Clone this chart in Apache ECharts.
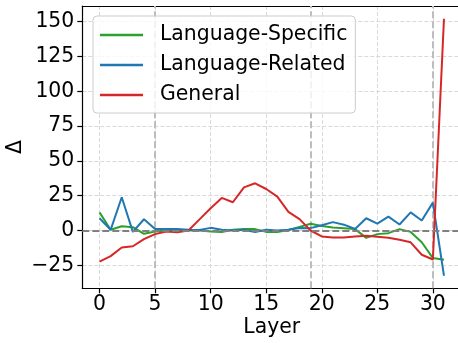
<!DOCTYPE html>
<html>
<head>
<meta charset="utf-8">
<script src="https://cdn.jsdelivr.net/npm/echarts@6/dist/echarts.min.js"></script>
<style>
html,body{margin:0;padding:0;background:#fff;}
#c{width:458px;height:343px;}
</style>
</head>
<body>
<div id="c"></div>
<script>
const layers = [0,1,2,3,4,5,6,7,8,9,10,11,12,13,14,15,16,17,18,19,20,21,22,23,24,25,26,27,28,29,30,31];
const languageSpecific = [13, 0.5, 3, 2.4, -2.4, -0.7, 0, 0.2, 0, 0, -0.7, -1, 0.5, 1, 1, -1, -1, 0.3, 2.6, 4.9, 3.3, 2.1, 1.7, 1, -5.3, -2.6, -1.9, 1, -1, -8.4, -19.8, -21];
const languageRelated = [8.8, 0.5, 23.9, -1, 8.1, 1, 1, 1, 0.5, 0.3, 1.9, 0.5, 0, 0.5, -1, 0.5, 0, 0.5, 1.8, 1.7, 3.8, 6, 4.2, 1.1, 8.8, 5, 10, 4.3, 13, 7.2, 20, -32.5];
const general = [-22.4, -18.4, -12.2, -11.3, -6.2, -2.6, -0.7, -1.2, 0, 8, 16, 23.4, 20.3, 31, 33.9, 29.8, 24.3, 13.4, 8.2, 0, -4.3, -5, -5, -4.3, -3.8, -4.5, -5.2, -6.7, -8.5, -17.4, -20.8, 152];
const xTicks = [0,5,10,15,20,25,30];
const yTicks = [-25,0,25,50,75,100,125,150];
const refLayers = [5,19,30];
const refZero = [0];
const seriesNames = ['Language-Specific','Language-Related','General'];

const FONT = 'DejaVu Sans';
const FS = 20.4;
const pair = (ys) => layers.map((x,i)=>[x, ys[i]]);
const fmt = v => String(v).replace('-', '\u2212');

const chart = echarts.init(document.getElementById('c'), null, {renderer:'canvas'});
const gridLine = {show:true, lineStyle:{color:'#d9d9d9', width:1, type:[4,2]}};
chart.setOption({
  animation:false,
  backgroundColor:'#fff',
  textStyle:{fontFamily:FONT},
  grid:{left:82.3, top:6, right:-3.2, bottom:54.7, containLabel:false, outerBoundsMode:'none'},
  legend:{
    data:seriesNames,
    orient:'vertical',
    left:93, top:16,
    padding:[9,8,8,7],
    icon:'rect',
    itemWidth:43, itemHeight:2.5, itemGap:10,
    backgroundColor:'rgba(255,255,255,0.8)',
    borderColor:'#cccccc', borderWidth:1, borderRadius:4,
    textStyle:{fontFamily:FONT, fontSize:FS, color:'#000', lineHeight:20, padding:[0,0,0,12]}
  },
  xAxis:[{
    type:'value', min:-1.55, max:32.55,
    name:'Layer', nameLocation:'middle', nameGap:29, nameMoveOverlap:false,
    nameTextStyle:{fontFamily:FONT, fontSize:FS, color:'#000'},
    axisLine:{show:true, onZero:false, lineStyle:{color:'#000', width:1.2}},
    axisTick:{show:true, length:5, customValues:xTicks, lineStyle:{color:'#000', width:1.2}},
    axisLabel:{fontFamily:FONT, fontSize:FS, color:'#000', margin:6, customValues:xTicks, formatter:fmt},
    splitLine:gridLine
  },{
    type:'value', min:-1.55, max:32.55, position:'top',
    axisLine:{show:true, onZero:false, lineStyle:{color:'#000', width:1.2}},
    axisTick:{show:false}, axisLabel:{show:false}, splitLine:{show:false}
  }],
  yAxis:{
    type:'value', min:-41.5, max:161.2,
    name:'\u0394', nameLocation:'middle', nameGap:57, nameRotate:90, nameMoveOverlap:false,
    nameTextStyle:{fontFamily:FONT, fontSize:FS, color:'#000'},
    axisLine:{show:true, onZero:false, lineStyle:{color:'#000', width:1.2}},
    axisTick:{show:true, length:5, customValues:yTicks, lineStyle:{color:'#000', width:1.2}},
    axisLabel:{fontFamily:FONT, fontSize:FS, color:'#000', margin:8, customValues:yTicks, formatter:fmt},
    splitLine:gridLine
  },
  series:[
    {type:'line', name:'refs', data:[], silent:true, z:1,
     markLine:{silent:true, symbol:'none', z:1, label:{show:false},
       lineStyle:{color:'#bdbdbd', width:2, type:[7,3]},
       data:refLayers.map(v=>({xAxis:v}))}},
    {type:'line', name:seriesNames[0], data:pair(languageSpecific), symbol:'none', z:2,
     lineStyle:{color:'#2ca02c', width:2}, itemStyle:{color:'#2ca02c'}},
    {type:'line', name:seriesNames[1], data:pair(languageRelated), symbol:'none', z:3,
     lineStyle:{color:'#1f77b4', width:2}, itemStyle:{color:'#1f77b4'}},
    {type:'line', name:seriesNames[2], data:pair(general), symbol:'none', z:4,
     lineStyle:{color:'#d62728', width:2}, itemStyle:{color:'#d62728'},
     markLine:{silent:true, symbol:'none', z:6, label:{show:false},
       lineStyle:{color:'#808080', width:2, type:[7,3]},
       data:refZero.map(v=>({yAxis:v}))}}
  ]
});
</script>
</body>
</html>
